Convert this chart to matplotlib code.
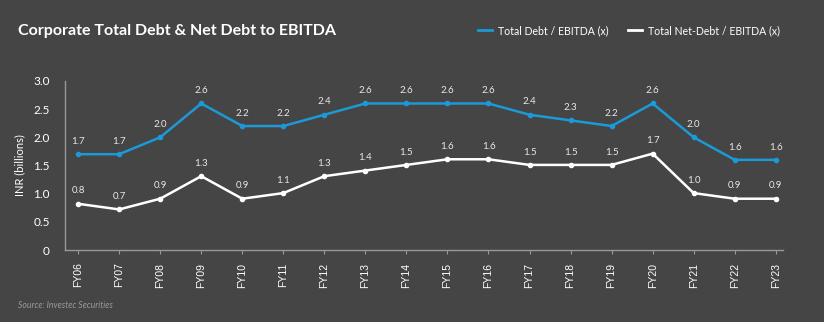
import matplotlib.pyplot as plt

years = ['FY06', 'FY07', 'FY08', 'FY09', 'FY10', 'FY11', 'FY12', 'FY13', 'FY14',
         'FY15', 'FY16', 'FY17', 'FY18', 'FY19', 'FY20', 'FY21', 'FY22', 'FY23']
total_debt = [1.7, 1.7, 2.0, 2.6, 2.2, 2.2, 2.4, 2.6, 2.6, 2.6, 2.6, 2.4, 2.3, 2.2, 2.6, 2.0, 1.6, 1.6]
total_labels = ['1.7', '1.7', '2.0', '2.6', '2.2', '2.2', '2.4', '2.6', '2.6',
                '2.6', '2.6', '2.4', '2.3', '2.2', '2.6', '2.0', '1.6', '1.6']
net_debt = [0.82, 0.72, 0.91, 1.31, 0.91, 1.01, 1.31, 1.41, 1.51, 1.61, 1.61, 1.51, 1.51, 1.51, 1.71, 1.01, 0.91, 0.91]
net_labels = ['0.8', '0.7', '0.9', '1.3', '0.9', '1.1', '1.3', '1.4', '1.5',
              '1.6', '1.6', '1.5', '1.5', '1.5', '1.7', '1.0', '0.9', '0.9']
yticks = [0, 0.5, 1.0, 1.5, 2.0, 2.5, 3.0]
ytick_labels = ['0', '0.5', '1.0', '1.5', '2.0', '2.5', '3.0']

bg = '#454545'
blue = '#1b9ad7'
plt.rcParams['font.family'] = ['Lato', 'DejaVu Sans']

fig = plt.figure(figsize=(8.24, 3.22), dpi=100, facecolor=bg)
ax = fig.add_axes([0.0789, 0.2236, 0.871, 0.525], facecolor=bg)

x = range(len(years))
ax.plot(x, total_debt, color=blue, lw=1.8, marker='o', ms=3)
ax.plot(x, net_debt, color='white', lw=1.8, marker='o', ms=3)
for i in x:
    ax.annotate(total_labels[i], (i, total_debt[i]), xytext=(0, 6), textcoords='offset points',
                ha='center', va='bottom', color='#e8e8e8', fontsize=7)
    ax.annotate(net_labels[i], (i, net_debt[i]), xytext=(0, 6), textcoords='offset points',
                ha='center', va='bottom', color='#e8e8e8', fontsize=7)

ax.set_xlim(-0.32, 17.17)
ax.set_ylim(0, 3.0)
ax.set_xticks(list(x))
ax.set_xticklabels(years, rotation=90, fontsize=7.5, color='white', family='Liberation Sans')
ax.set_yticks(yticks)
ax.set_yticklabels(ytick_labels, fontsize=8.5, color='white')
ax.tick_params(axis='x', length=3, color='#999999', pad=6)
ax.tick_params(axis='y', length=0, pad=11)
for s in ['top', 'right']:
    ax.spines[s].set_visible(False)
for s in ['left', 'bottom']:
    ax.spines[s].set_color('#999999')
    ax.spines[s].set_linewidth(1)
ax.set_ylabel('INR (billions)', color='white', fontsize=8, labelpad=6)

fig.text(0.022, 0.905, 'Corporate Total Debt & Net Debt to EBITDA', color='white',
         fontsize=11.5, fontweight='bold', va='center')
fig.text(0.022, 0.052, 'Source: Investec Securities', color='#9a9a9a', fontsize=6.2,
         style='italic', va='center')

handles = [plt.Line2D([], [], color=blue, lw=2), plt.Line2D([], [], color='white', lw=2)]
leg = fig.legend(handles, ['Total Debt / EBITDA (x)', 'Total Net-Debt / EBITDA (x)'],
                 loc='center right', bbox_to_anchor=(0.958, 0.905), ncol=2, frameon=False,
                 fontsize=7.6, handlelength=1.3, handletextpad=0.6, columnspacing=1.8)
for t in leg.get_texts():
    t.set_color('white')

fig.savefig('out.png', dpi=100, facecolor=bg)
